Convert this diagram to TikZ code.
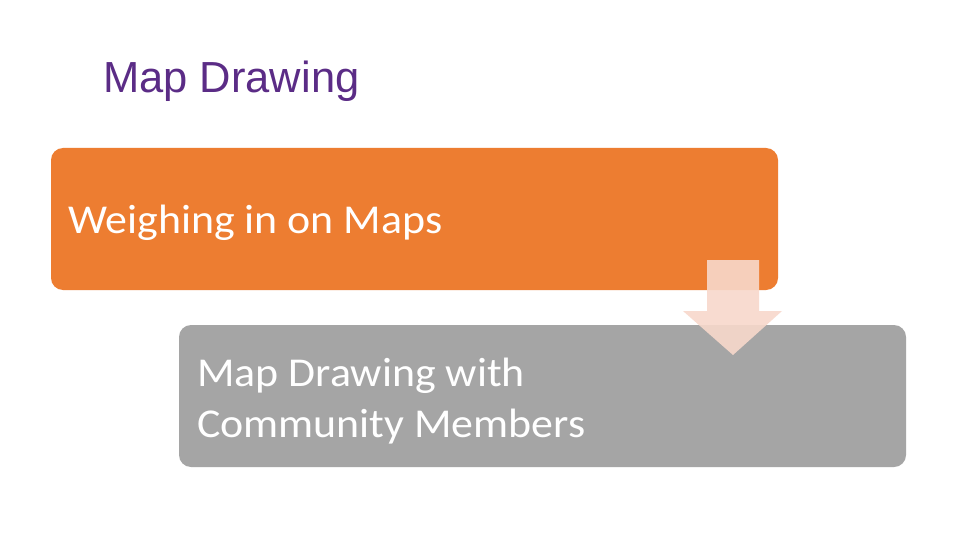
\documentclass[tikz,border=0pt]{standalone}
\usepackage{fontspec}
\setmainfont{Carlito}
\newfontfamily\titlefont{Liberation Sans}
\definecolor{orangebox}{HTML}{ED7D31}
\definecolor{graybox}{HTML}{A5A5A5}
\definecolor{arrowfill}{HTML}{F8D8CB}
\definecolor{titlepurple}{HTML}{5B2C86}
\begin{document}
\begin{tikzpicture}[x=1pt,y=-1pt,
  boxstyle/.style={rounded corners=12pt, inner sep=0pt, outer sep=0pt},
  boxtext/.style={anchor=base west, align=left, text=white, font=\fontsize{41}{51}\selectfont, inner sep=0pt}]
\useasboundingbox (0,0) rectangle (960,540);
\fill[white] (0,0) rectangle (960,540);
\node[anchor=base west, inner sep=0pt, text=titlepurple, font=\titlefont\fontsize{43.5}{50}\selectfont] (title) at (103,93) {Map Drawing};
\fill[orangebox, boxstyle] (51,148) rectangle (778,290);
\node[boxtext] (t1) at (68,233) {\scalebox{1.07}[1]{Weighing in on Maps}};
\fill[graybox, boxstyle] (179,325) rectangle (906,467);
\node[boxtext] (t2) at (197,437) {\scalebox{1.07}[1]{Map Drawing with}\\\scalebox{1.07}[1]{Community Members}};
\fill[arrowfill, opacity=0.9] (707,260) -- (759,260) -- (759,311) -- (782,311) -- (733,355) -- (683,311) -- (707,311) -- cycle;
\end{tikzpicture}
\end{document}
